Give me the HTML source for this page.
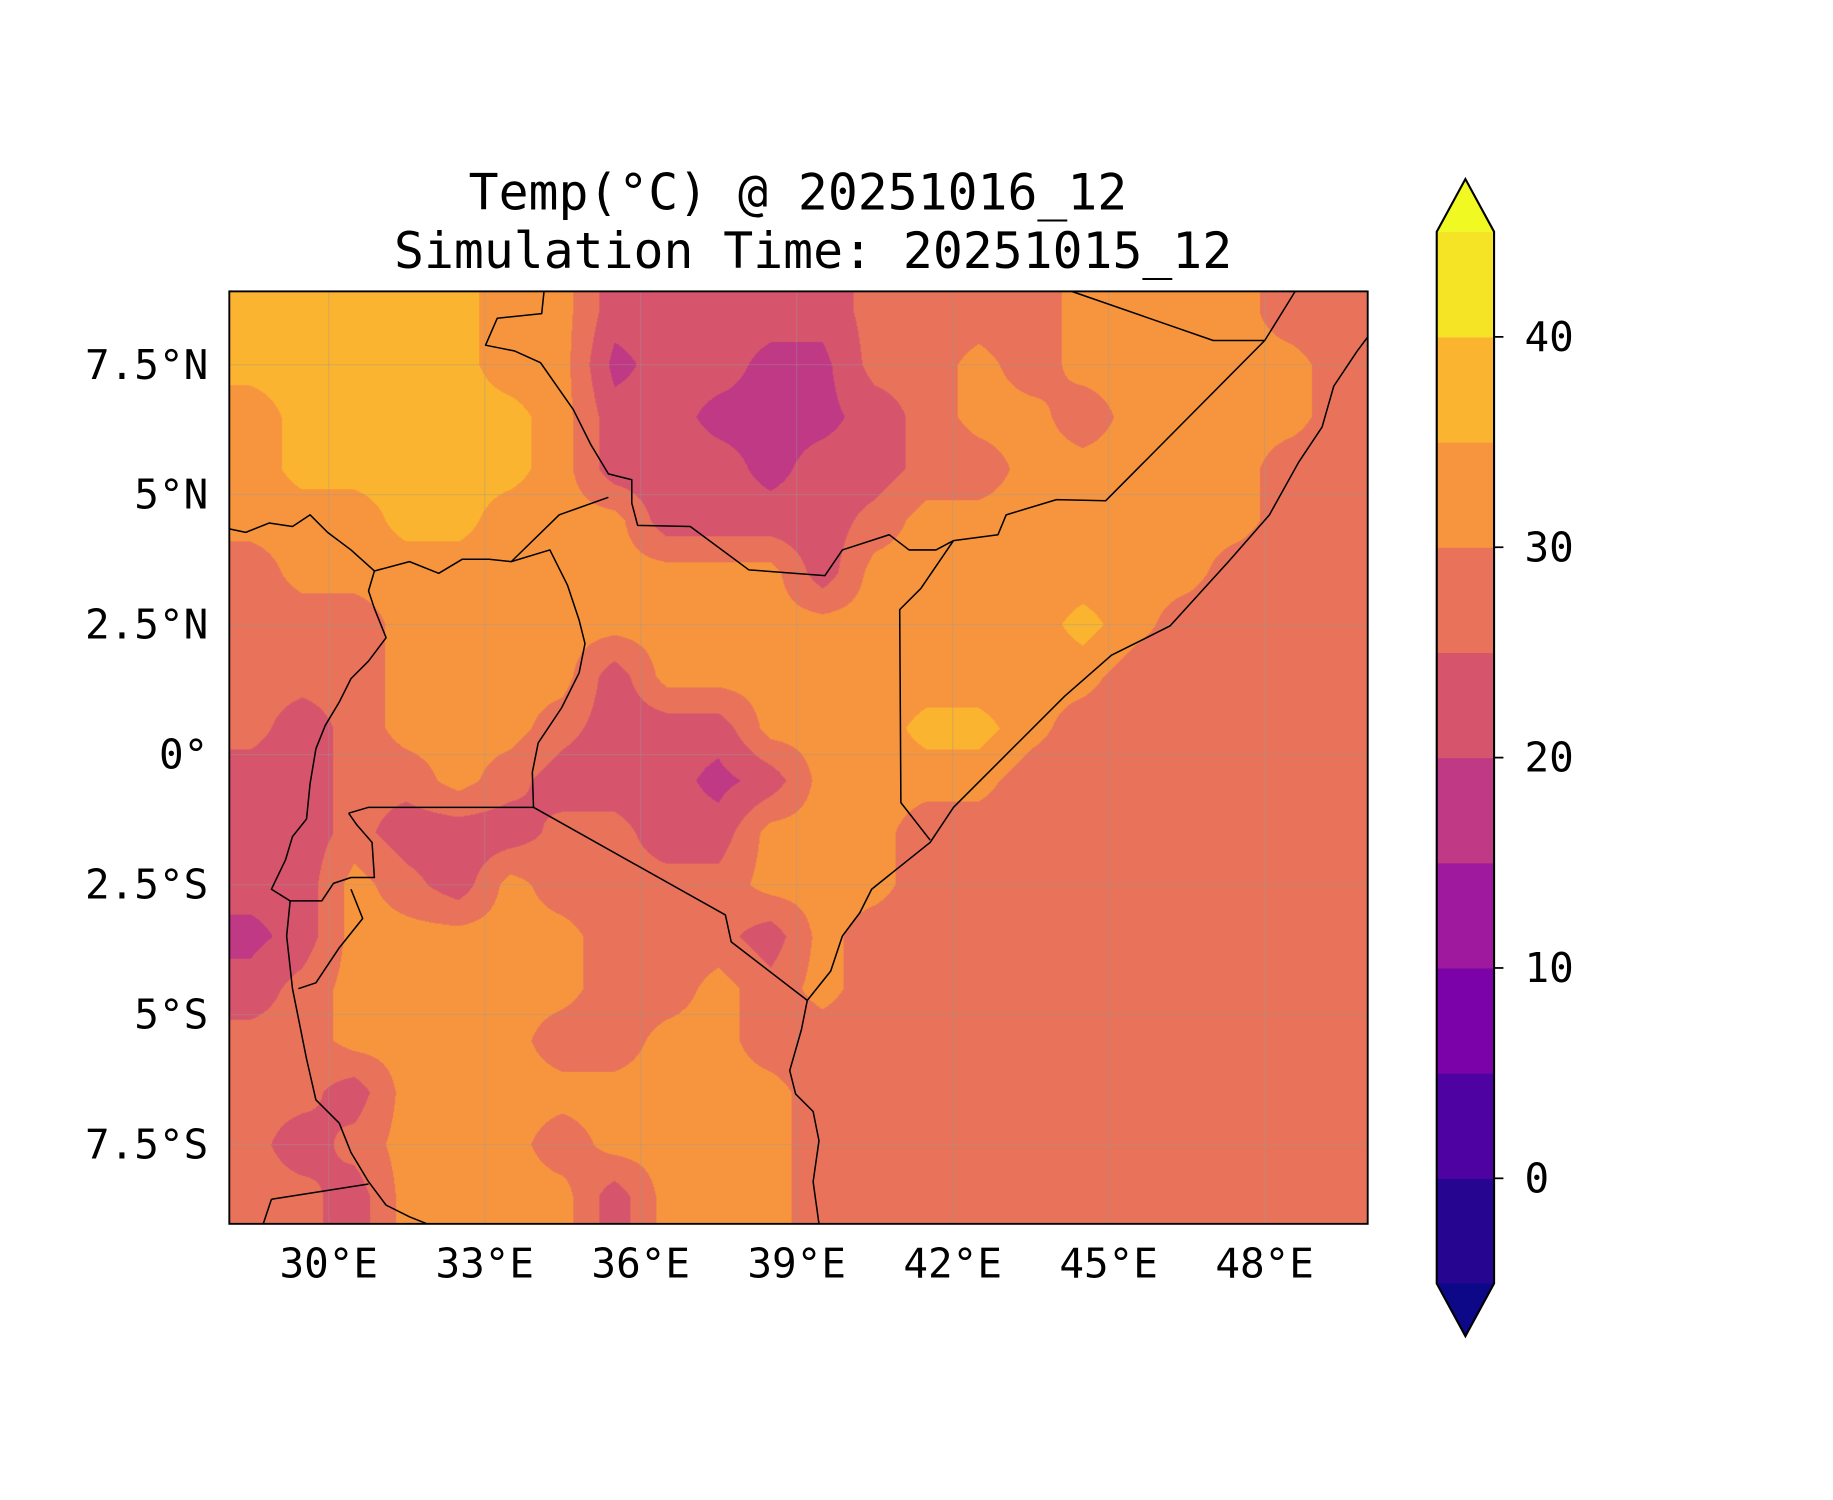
<!DOCTYPE html>
<html><head><meta charset="utf-8"><style>
html,body{margin:0;padding:0;background:#fff;}
#wrap{position:relative;width:1833px;height:1500px;overflow:hidden;}
#field{position:absolute;left:229.3px;top:291.3px;width:1138.4px;height:932.5px;}
#ov{position:absolute;left:0;top:0;}
text{font-family:"DejaVu Sans Mono","Liberation Mono",monospace;fill:#000;}
</style></head><body>
<div id="wrap">
<canvas id="field" width="1138" height="932"></canvas>
<svg id="ov" width="1833" height="1500" viewBox="0 0 1566.7 1282">
<text x="682" y="179" font-size="42.5" text-anchor="middle">Temp(°C) @ 20251016_12</text>
<text x="695" y="229" font-size="42.5" text-anchor="middle">Simulation Time: 20251015_12</text>
<g id="grid"></g>
<g fill="none" stroke="#000" stroke-width="1.3" stroke-linejoin="round">
<path d="M1169,288 L1160,300 1140,330 1130,365 1110,395 1085,440 1050,480 1000,535 950,560 910,595 870,635 840,665 815,690 795,720 770,740 745,760 735,780 720,800 710,830 690,855 685,880 675,915 680,935 695,950 700,975 695,1010 700,1046"/>
<path d="M916,249 L1037,291 1081,291 M1107,249 L1081,291 945,428 903,427 860,440 853,457 815,462 787,503 769,521 770,686 795,718"/>
<path d="M815,462 L800,470 777,470 760,457 720,470 705,492 640,487 590,450 545,449 540,430 540,410 520,405 505,380 490,350 462,310 440,300 415,295 425,272 463,268 465,249"/>
<path d="M520,425 L478,440 437,480 418,478 395,478 375,490 350,480 320,488 300,470 280,455 265,440 250,450 230,447 210,455 196,452"/>
<path d="M437,480 L470,470 485,500 495,530 500,550 495,575 480,605 460,635 455,660 456,690 315,690 298,695 M320,488 L315,505 320,520 330,545 315,565 300,580 290,600 278,620 270,640 265,670 262,700"/>
<path d="M456,690 L620,782 625,805 690,855"/>
<path d="M262,700 L250,715 244,735 232,760 248,770 275,770 285,755 300,750 320,750 318,720 305,705 298,695 M300,760 L310,785 290,810 270,840 255,845"/>
<path d="M248,770 L245,800 250,845 255,870 262,905 270,940 290,960 300,985 315,1010 330,1030 350,1040 365,1046 M232,1025 L315,1012 M232,1025 L225,1046"/>
</g>
<rect x="196" y="249" width="973" height="797" fill="none" stroke="#000" stroke-width="1.6"/>
<g id="xt"></g>
<g id="yt"></g>
<g id="cb"></g>
</svg>
</div>
<script>
const lonTicks=[30,33,36,39,42,45,48];
const lonLabels=["30°E","33°E","36°E","39°E","42°E","45°E","48°E"];
const latTicks=[7.5,5,2.5,0,-2.5,-5,-7.5];
const latLabels=["7.5°N","5°N","2.5°N","0°","2.5°S","5°S","7.5°S"];
const cbLevels=[-5,0,5,10,15,20,25,30,35,40,45];
const cbColors=["#260591","#4e02a2","#7a02a8","#9e199d","#bf3984","#d6556d","#e8735a","#f7953f","#fbb42f","#f5e326"];
const cbTicks=[0,10,20,30,40];
const gridLon=[28.5,29.5,30.5,31.5,32.5,33.5,34.5,35.5,36.5,37.5,38.5,39.5,40.5,41.5,42.5,43.5,44.5,45.5,46.5,47.5,48.5,49.5];
const gridLat=[8.5,7.5,6.5,5.5,4.5,3.5,2.5,1.5,0.5,-0.5,-1.5,-2.5,-3.5,-4.5,-5.5,-6.5,-7.5,-8.5];
const gridRows=[
"YYYYYOOPPPPPRRRROOOORR",
"YYYYYOOMPPMMRROROOOOOR",
"OYYYYYOPPMMMPROOROOOOR",
"OYYYYYOPPPMPPRROOOOORR",
"OOOYYOOOPPPPROOOOOOORR",
"ROOOOOOOOOOPOOOOOOORRR",
"RRROOOOOOOOOOOOOYORRRR",
"RRROOOOPOOOOOOOOORRRRR",
"RPROOORPPPOOOYYORRRRRR",
"PPRRORPPPMPOOOORRRRRRR",
"PPRPPPRRPPOOORRRRRRRRR",
"PPORPORRRROOORRRRRRRRR",
"MPOOOOORRRPORRRRRRRRRR",
"PROOOOORROROrRRRRRRRRR",
"RROOOORROORRRRRRRRRRRR",
"RRPOOOOOOOORRRRRRRRRRR",
"RPROOOROOOORRRRRRRRRRR",
"RRPOOOOPOOORRRRRRRRRRR"];
const codeVal={Y:37,O:32,R:27,r:27,P:22,M:18.5};
const S=44.44, X0=281, Y0=645;
const xOf=l=>X0+(l-30)*S, yOf=a=>Y0-a*S;
const NS="http://www.w3.org/2000/svg";
function mk(tag,attrs,parent){const e=document.createElementNS(NS,tag);for(const k in attrs)e.setAttribute(k,attrs[k]);parent.appendChild(e);return e;}
const cv=document.getElementById('field'),ctx=cv.getContext('2d');
const W=cv.width,H=cv.height,img=ctx.createImageData(W,H);
const vals=gridRows.map(r=>r.split('').map(c=>codeVal[c]));
function hex(c){return [parseInt(c.substr(1,2),16),parseInt(c.substr(3,2),16),parseInt(c.substr(5,2),16)];}
const rgb=cbColors.map(hex);
const lonMin=28.09,lonMax=49.98,latMax=8.92,latMin=-9.03;
for(let py=0;py<H;py++){const lat=latMax-(py+0.5)/H*(latMax-latMin);
 let fj=(gridLat[0]-lat);fj=Math.max(0,Math.min(gridLat.length-1.001,fj));const j=Math.floor(fj),tj=fj-j;
 for(let px=0;px<W;px++){const lon=lonMin+(px+0.5)/W*(lonMax-lonMin);
  let fi=lon-gridLon[0];fi=Math.max(0,Math.min(gridLon.length-1.001,fi));const i=Math.floor(fi),ti=fi-i;
  const v=(vals[j][i]*(1-ti)+vals[j][i+1]*ti)*(1-tj)+(vals[j+1][i]*(1-ti)+vals[j+1][i+1]*ti)*tj;
  let b=Math.floor((v-cbLevels[0])/5);b=Math.max(0,Math.min(cbColors.length-1,b));
  const o=(py*W+px)*4,c=rgb[b];img.data[o]=c[0];img.data[o+1]=c[1];img.data[o+2]=c[2];img.data[o+3]=255;}}
ctx.putImageData(img,0,0);
const g=document.getElementById('grid'),xt=document.getElementById('xt'),yt=document.getElementById('yt');
lonTicks.forEach((l,k)=>{const x=xOf(l);
 const ln=mk('line',{x1:x,x2:x,y1:249,y2:1046,stroke:'#999','stroke-opacity':0.35,'stroke-width':1},g);
 
 
 const t=mk('text',{x:x,y:1092,'font-size':35,'text-anchor':'middle'},xt);t.textContent=lonLabels[k];
 
 });
latTicks.forEach((a,k)=>{const y=yOf(a);
 const ln=mk('line',{x1:196,x2:1169,y1:y,y2:y,stroke:'#999','stroke-opacity':0.35,'stroke-width':1},g);
 
 
 const t=mk('text',{x:178,y:y+12,'font-size':35,'text-anchor':'end'},yt);t.textContent=latLabels[k];
 
 });
const cb=document.getElementById('cb');
const cbX=1228,cbW=49,cbTop=198,cbBot=1097;
const cy=v=>cbBot-(v-cbLevels[0])/(cbLevels[cbLevels.length-1]-cbLevels[0])*(cbBot-cbTop);
cbColors.forEach((c,k)=>{const r=mk('rect',{x:cbX,y:cy(cbLevels[k+1]),width:cbW,height:cy(cbLevels[k])-cy(cbLevels[k+1])+0.5,fill:c},cb);
 
 });
const up=mk('polygon',{points:`${cbX},${cbTop} ${cbX+cbW/2},153 ${cbX+cbW},${cbTop}`,fill:'#f0f921'},cb);


const dn=mk('polygon',{points:`${cbX},${cbBot} ${cbX+cbW/2},1142 ${cbX+cbW},${cbBot}`,fill:'#0d0887'},cb);


const ol=mk('polygon',{points:`${cbX},${cbTop} ${cbX+cbW/2},153 ${cbX+cbW},${cbTop} ${cbX+cbW},${cbBot} ${cbX+cbW/2},1142 ${cbX},${cbBot}`,fill:'none',stroke:'#000','stroke-width':1.8},cb);


cbTicks.forEach(v=>{const y=cy(v);
 const tl=mk('line',{x1:cbX+cbW,x2:cbX+cbW+8,y1:y,y2:y,stroke:'#000','stroke-width':1.5},cb);
 
 
 const t=mk('text',{x:1303,y:y+12,'font-size':35},cb);t.textContent=String(v);
 
 });
</script>
</body></html>
